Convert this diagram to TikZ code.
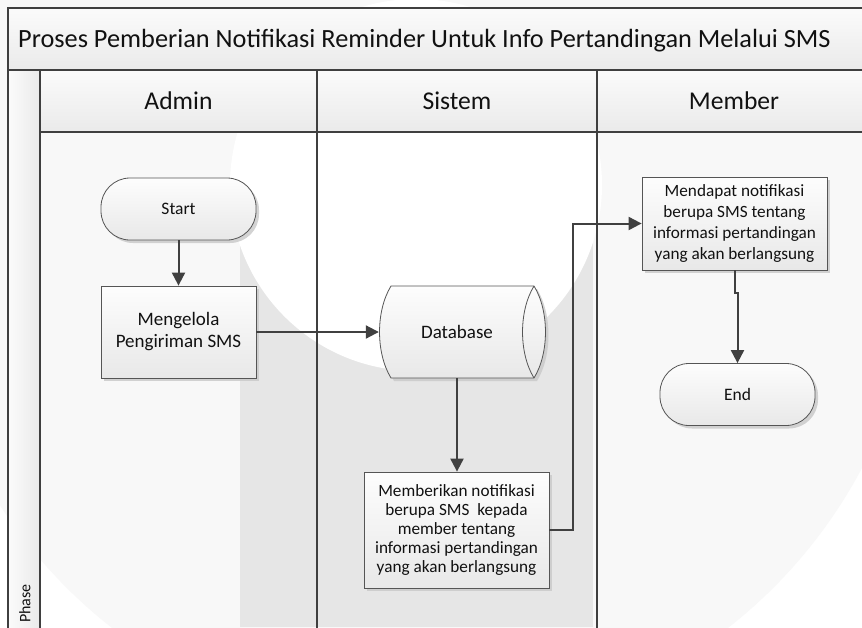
\documentclass[tikz,border=0pt]{standalone}
\usepackage{fontspec}
\setmainfont{Carlito}
\usetikzlibrary{arrows.meta,shadows,calc}
\definecolor{framecol}{HTML}{3F3F3F}
\definecolor{linecol}{HTML}{404040}
\definecolor{boxline}{HTML}{555555}
\definecolor{txtcol}{HTML}{111111}
\definecolor{wmlight}{HTML}{F8F8F8}
\definecolor{wmdark}{HTML}{E6E6E6}
\definecolor{hdrtop}{HTML}{FBFBFB}
\definecolor{hdrbot}{HTML}{EAEAEA}
\definecolor{boxtop}{HTML}{FDFDFD}
\definecolor{boxbot}{HTML}{E8E8E8}
\definecolor{shadowcol}{HTML}{C8C8C8}
\tikzset{
  frameline/.style={draw=framecol, line width=1.4pt},
  lanediv/.style={draw=framecol, line width=1.8pt},
  hdrtext/.style={font=\fontsize{25.6}{30}\selectfont, text=txtcol, inner sep=0pt},
  flowbox/.style={draw=boxline, line width=0.8pt, top color=boxtop, bottom color=boxbot,
     drop shadow={shadow xshift=3pt, shadow yshift=-3pt, fill=shadowcol, opacity=0.8},
     align=center, inner sep=0pt, text=txtcol},
  procbox/.style={flowbox, minimum width=155pt, minimum height=92pt, font=\fontsize{19}{22}\selectfont},
  smallbox/.style={flowbox, minimum width=185pt, font=\fontsize{17.2}{19}\selectfont},
  termbox/.style={flowbox, rounded corners=29pt, minimum width=155pt, minimum height=62pt, font=\fontsize{17.5}{20}\selectfont},
  conn/.style={draw=linecol, line width=2pt, line join=miter, -{Triangle[length=13pt,width=13pt]}},
}
\begin{document}
\begin{tikzpicture}[x=1pt,y=-1pt]
\useasboundingbox (0,0) rectangle (862,627);
\clip (0,0) rectangle (862,627);
% watermark background
\fill[white] (0,0) rectangle (862,627);
\fill[wmlight] (420,234) circle[radius=500];
\fill[wmdark] (240,185) rectangle (593,627);
\fill[white] (416,185) circle[radius=186];
% header bands
\shade[top color=hdrtop, bottom color=hdrbot] (8,8) rectangle (880,70);
\shade[top color=hdrtop, bottom color=hdrbot] (40,70) rectangle (880,132);
\shade[left color=hdrtop, right color=hdrbot] (8,70) rectangle (40,650);
% frame lines
\draw[frameline] (8,8) rectangle (880,650);
\draw[frameline] (8,70) -- (880,70);
\draw[frameline] (40,70) -- (40,650);
\draw[frameline] (40,132) -- (880,132);
\draw[lanediv] (317,70) -- (317,650);
\draw[lanediv] (597,70) -- (597,650);
% texts
\node[hdrtext, anchor=base west, font=\fontsize{26.3}{30}\selectfont] (title) at (18,47) {Proses Pemberian Notifikasi Reminder Untuk Info Pertandingan Melalui SMS};
\node[hdrtext, anchor=base] (admin) at (178.5,109) {Admin};
\node[hdrtext, anchor=base] (sistem) at (457,109) {Sistem};
\node[hdrtext, anchor=base] (member) at (734,109) {Member};
\node[rotate=90, anchor=east, inner sep=0pt, text=txtcol, font=\fontsize{16}{19}\selectfont] (phase) at (25,584) {Phase};
% nodes
\node[termbox] (start) at (178.5,209) {Start};
\node[procbox] (mengelola) at (178.5,332) {Mengelola\\Pengiriman SMS};
% database shape
\def\dbshape{(391,286) -- (534,286) .. controls (549.3,311) and (549.3,353) .. (534,378) -- (391,378) .. controls (375.7,353) and (375.7,311) .. (391,286) -- cycle}
\fill[shadowcol, opacity=0.8, xshift=3pt, yshift=-3pt] \dbshape;
\shade[top color=boxtop, bottom color=boxbot] \dbshape;
\draw[boxline, line width=0.8pt] \dbshape;
\draw[boxline, line width=0.8pt] (534,286) .. controls (518.7,311) and (518.7,353) .. (534,378);
\node[inner sep=0pt, minimum width=156pt, minimum height=92pt, text=txtcol, font=\fontsize{19}{22}\selectfont] (db) at (457,332) {Database};
\node[smallbox, minimum height=116pt] (memberikan) at (456.5,530) {Memberikan notifikasi\\berupa SMS\ \ kepada\\member tentang\\informasi pertandingan\\yang akan berlangsung};
\node[smallbox, minimum height=93pt, font=\fontsize{17.2}{21}\selectfont] (mendapat) at (734.5,223.5) {Mendapat notifikasi\\berupa SMS tentang\\informasi pertandingan\\yang akan berlangsung};
\node[termbox] (end) at (737.5,394.5) {End};
% connectors
\draw[conn] (start.south) -- (mengelola.north);
\draw[conn] (mengelola.east) -- (db.west);
\draw[conn] (db.south) -- (db.south |- memberikan.north);
\draw[conn] (memberikan.east) -- ++(24,0) |- (mendapat.west);
\draw[conn] (mendapat.south) -- ++(0,23) -| (end.north);
\end{tikzpicture}
\end{document}
